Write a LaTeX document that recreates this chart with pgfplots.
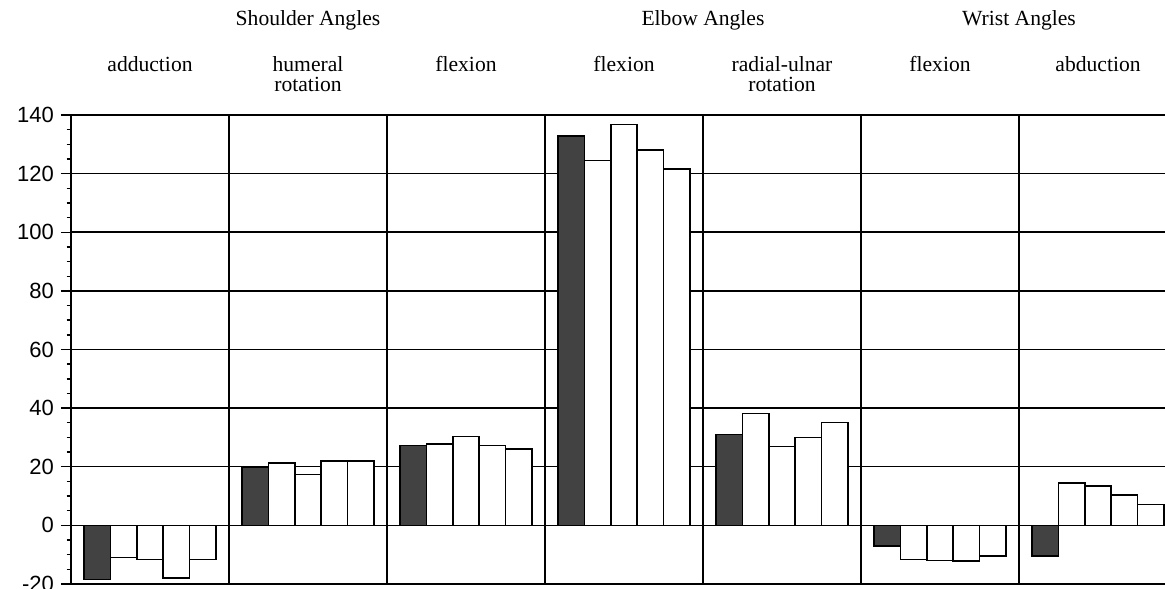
\documentclass[border=0pt]{standalone}
\usepackage{fontspec}
\setmainfont{Liberation Serif}
\newfontfamily\sansf{Liberation Sans}
\usepackage{pgfplots}
\pgfplotsset{compat=1.18}
\begin{document}
\begin{tikzpicture}
\begin{axis}[
  name=ax, at={(0,0)}, anchor=south west,
  scale only axis, width=553pt, height=234.5pt,
  xmin=0, xmax=7, ymin=-20, ymax=140,
  xtick={1,2,3,4,5,6}, xticklabels={}, xmajorgrids,
  xtick style={draw=none},
  ytick={-20,0,20,40,60,80,100,120,140}, minor y tick num=3, ymajorgrids,
  ytick pos=left, ytick align=outside, major tick length=5pt, minor tick length=2.2pt,
  grid style={black, line width=0.75pt},
  axis line style={black, line width=0.85pt},
  ytick style={black, line width=0.7pt},
  /pgf/number format/assume math mode=true,
  yticklabel style={font=\sansf\fontsize{11}{12}\selectfont},
  clip=false,
  ybar, bar width=0.16667, bar shift=0pt,
]
\addplot[draw=black, fill=black!74, line width=0.75pt] coordinates {
 (0.16667,-18.5) (1.16667,19.8) (2.16667,27.3) (3.16667,132.8) (4.16667,31.0) (5.16667,-7.0) (6.16667,-10.4)};
\addplot[draw=black, fill=white, line width=0.75pt] coordinates {
 (0.33333,-11.0) (1.33333,21.2) (2.33333,27.7) (3.33333,124.5) (4.33333,38.1) (5.33333,-11.6) (6.33333,14.5)};
\addplot[draw=black, fill=white, line width=0.75pt] coordinates {
 (0.5,-11.6) (1.5,17.3) (2.5,30.4) (3.5,136.7) (4.5,26.9) (5.5,-12.0) (6.5,13.5)};
\addplot[draw=black, fill=white, line width=0.75pt] coordinates {
 (0.66667,-18.0) (1.66667,22.0) (2.66667,27.3) (3.66667,128.1) (4.66667,29.9) (5.66667,-12.2) (6.66667,10.3)};
\addplot[draw=black, fill=white, line width=0.75pt] coordinates {
 (0.83333,-11.6) (1.83333,22.0) (2.83333,26.1) (3.83333,121.6) (4.83333,35.1) (5.83333,-10.4) (6.83333,7.2)};
% headers
\begin{scope}[every node/.style={anchor=base, inner sep=0pt, font=\fontsize{10.8}{10}\selectfont}]
\node at ([yshift=44.5pt]axis cs:1.5,140) {Shoulder Angles};
\node at ([yshift=44.5pt]axis cs:4,140) {Elbow Angles};
\node at ([yshift=44.5pt]axis cs:6,140) {Wrist Angles};
\node at ([yshift=21.5pt]axis cs:0.5,140) {adduction};
\node at ([yshift=21.5pt]axis cs:1.5,140) {humeral};
\node at ([yshift=11.5pt]axis cs:1.5,140) {rotation};
\node at ([yshift=21.5pt]axis cs:2.5,140) {flexion};
\node at ([yshift=21.5pt]axis cs:3.5,140) {flexion};
\node at ([yshift=21.5pt]axis cs:4.5,140) {radial-ulnar};
\node at ([yshift=11.5pt]axis cs:4.5,140) {rotation};
\node at ([yshift=21.5pt]axis cs:5.5,140) {flexion};
\node at ([yshift=21.5pt]axis cs:6.5,140) {abduction};
\end{scope}
\end{axis}
\pgfresetboundingbox
\useasboundingbox (-35.5pt,-2pt) rectangle (547pt,292pt);
\end{tikzpicture}
\end{document}
